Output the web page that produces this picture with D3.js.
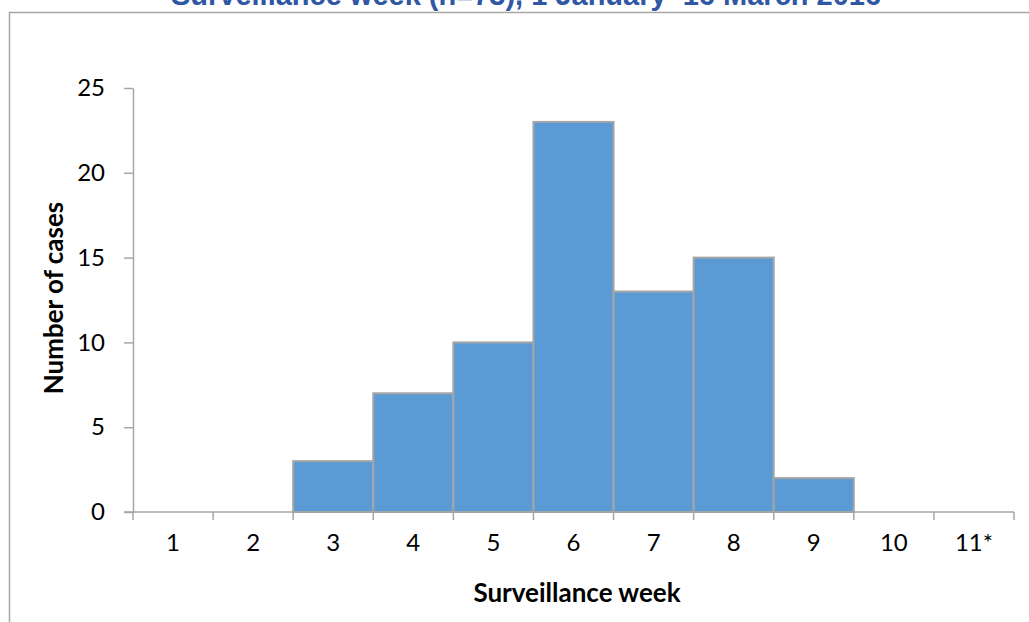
<!DOCTYPE html>
<html>
<head>
<meta charset="utf-8">
<script src="https://cdn.jsdelivr.net/npm/d3@7"></script>
<style>
  body { margin: 0; background: #fff; }
  svg { display: block; }
  .tick text { font-family: Lato, "Open Sans", sans-serif; font-size: 24px; fill: #000; }
</style>
</head>
<body>
<div id="chart"></div>
<script>
// Weekly case counts
const weeks = ["1", "2", "3", "4", "5", "6", "7", "8", "9", "10", "11*"];
const cases = [0, 0, 3, 7, 10, 23, 13, 15, 2, 0, 0];
const yTicks = [0, 5, 10, 15, 20, 25];

const width = 1029, height = 622;
const margin = { top: 88, right: 15, bottom: 110, left: 133 };

const svg = d3.select("#chart").append("svg")
    .attr("width", width)
    .attr("height", height);

// outer chart frame (runs off the picture on right/bottom)
svg.append("rect")
    .attr("x", 9.5).attr("y", 12.5)
    .attr("width", width + 20).attr("height", height + 20)
    .attr("fill", "none")
    .attr("stroke", "#a6a6a6")
    .attr("stroke-width", 1.5);

// title (first line sits above the visible area)
svg.append("text")
    .attr("x", 526)
    .attr("y", 5)
    .attr("text-anchor", "middle")
    .attr("fill", "#2f57a4")
    .style("font-family", "Arial, 'Liberation Sans', sans-serif")
    .style("font-weight", "bold")
    .style("font-size", "29px")
    .text("Surveillance week (n=73), 1 January\u201316 March 2016");

const x = d3.scaleBand()
    .domain(weeks)
    .range([margin.left, width - margin.right])
    .padding(0);

const y = d3.scaleLinear()
    .domain([0, 25])
    .range([height - margin.bottom, margin.top]);

const data = weeks.map((w, i) => ({ week: w, n: cases[i] }));

// bars
svg.append("g")
    .selectAll("rect")
    .data(data.filter(d => d.n > 0))
    .join("rect")
    .attr("x", d => x(d.week))
    .attr("y", d => y(d.n))
    .attr("width", x.bandwidth())
    .attr("height", d => y(0) - y(d.n))
    .attr("fill", "#5b9bd5")
    .attr("stroke", "#a5a5a5")
    .attr("stroke-width", 2);

// y axis
const yAxis = svg.append("g")
    .attr("transform", `translate(${margin.left},0)`)
    .call(d3.axisLeft(y).tickValues(yTicks).tickSize(9).tickSizeOuter(0).tickPadding(19));
yAxis.select(".domain").attr("stroke", "#a6a6a6").attr("stroke-width", 1.5);
yAxis.selectAll(".tick line").attr("stroke", "#a6a6a6").attr("stroke-width", 1.5);

// x axis: labels centred in bands, ticks on band edges
const xAxis = svg.append("g")
    .attr("transform", `translate(0,${y(0)})`)
    .call(d3.axisBottom(x).tickSize(0).tickPadding(22));
xAxis.select(".domain").remove();

const edges = weeks.map(w => x(w)).concat([x.range()[1]]);
svg.append("g")
    .selectAll("line")
    .data(edges)
    .join("line")
    .attr("x1", d => d).attr("x2", d => d)
    .attr("y1", y(0)).attr("y2", y(0) + 8)
    .attr("stroke", "#a6a6a6")
    .attr("stroke-width", 1.5);

svg.append("line")
    .attr("x1", margin.left - 9).attr("x2", x.range()[1])
    .attr("y1", y(0)).attr("y2", y(0))
    .attr("stroke", "#a6a6a6")
    .attr("stroke-width", 1.5);

// axis titles
svg.append("text")
    .attr("x", 577)
    .attr("y", 602)
    .attr("text-anchor", "middle")
    .style("font-family", "Lato, 'Open Sans', sans-serif")
    .style("font-weight", "bold")
    .style("font-size", "26px")
    .text("Surveillance week");

svg.append("text")
    .attr("transform", "translate(63,298) rotate(-90)")
    .attr("text-anchor", "middle")
    .style("font-family", "Lato, 'Open Sans', sans-serif")
    .style("font-weight", "bold")
    .style("font-size", "26px")
    .text("Number of cases");
</script>
</body>
</html>
